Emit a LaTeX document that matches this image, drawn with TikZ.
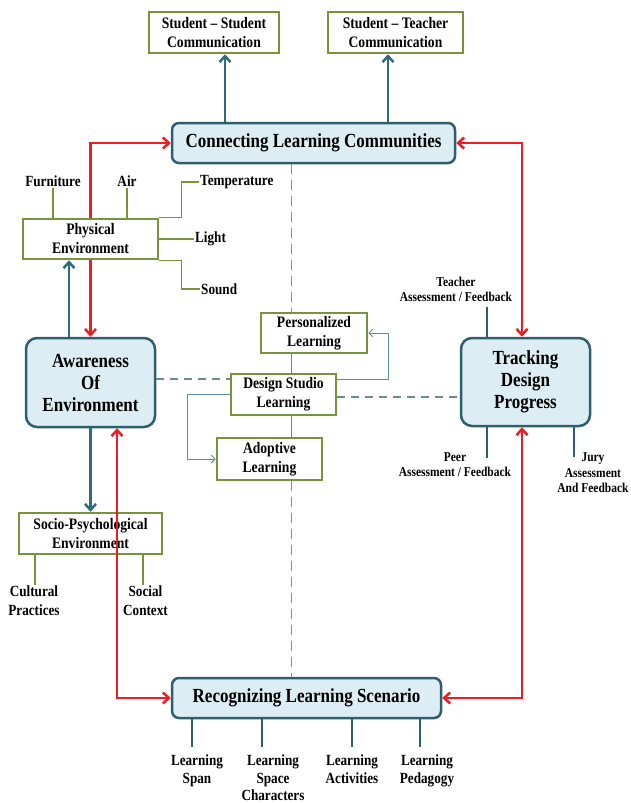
\documentclass[tikz,border=0pt]{standalone}
\usepackage{fontspec}
\setmainfont[FakeStretch=0.85]{Liberation Serif}
\usetikzlibrary{arrows.meta,calc}
\definecolor{olivec}{HTML}{77933C}
\definecolor{bfill}{HTML}{DCEEF4}
\definecolor{bdraw}{HTML}{2F5E6E}
\definecolor{tealc}{HTML}{2E6B80}
\definecolor{redc}{HTML}{EE1C24}
\definecolor{thinb}{HTML}{5F8CA3}
\definecolor{dashg}{HTML}{6C8A93}
\definecolor{vdashc}{HTML}{8A9A5B}
\pgfdeclarelayer{bg}
\pgfsetlayers{bg,main}
\tikzset{
  gbox/.style={draw=olivec, line width=2.5pt, fill=white, inner sep=0pt, align=center,
    font=\fontsize{16}{19}\selectfont\bfseries},
  bbox/.style={draw=bdraw, line width=2.5pt, fill=bfill, rounded corners=8pt, inner sep=0pt,
    align=center, font=\fontsize{20}{22}\selectfont\bfseries},
  lbl/.style={inner sep=1pt, align=center, font=\fontsize{15.5}{19}\selectfont\bfseries},
  llbl/.style={inner sep=1pt, align=center, font=\fontsize{15.5}{17.5}\selectfont\bfseries},
  slbl/.style={inner sep=1pt, align=center, font=\fontsize{13.5}{15.5}\selectfont\bfseries},
  thickarrow/.style={draw=tealc, line width=2.5pt, -{Straight Barb[length=6pt,width=11pt]}},
  redarrow/.style={draw=redc, line width=2.5pt,
    {Straight Barb[length=6pt,width=11pt]}-{Straight Barb[length=6pt,width=11pt]}},
  oline/.style={draw=olivec, line width=1.4pt},
  tline/.style={draw=bdraw, line width=1.4pt},
  thinarrow/.style={draw=thinb, line width=1pt, -{Straight Barb[length=4pt,width=8pt]}},
  hdash/.style={draw=dashg, line width=1.3pt, dash pattern=on 8pt off 6pt},
  vdash/.style={draw=vdashc, line width=1.3pt, dash pattern=on 10pt off 6pt},
}
\begin{document}
\begin{tikzpicture}[x=1pt,y=-1pt]
\useasboundingbox (0,0) rectangle (631,803);
% boxes
\node[gbox, minimum width=130, minimum height=41] (ss) at (214,32.5) {Student -- Student\\Communication};
\node[gbox, minimum width=135, minimum height=41] (st) at (395.5,32.5) {Student -- Teacher\\Communication};
\node[bbox, rounded corners=7pt, minimum width=283, minimum height=40] (conn) at (313.5,143) {Connecting Learning Communities};
\node[gbox, minimum width=135, minimum height=40] (phys) at (90.5,239) {Physical\\Environment};
\node[bbox, rounded corners=11pt, minimum width=129, minimum height=89] (aware) at (90.5,382.5) {Awareness\\Of\\Environment};
\node[bbox, rounded corners=11pt, minimum width=129, minimum height=88] (track) at (525.5,382) {Tracking\\Design\\Progress};
\node[gbox, minimum width=106, minimum height=40] (pers) at (314,333) {Personalized\\Learning};
\node[gbox, minimum width=105, minimum height=41] (ds) at (283.5,394.5) {Design Studio\\Learning};
\node[gbox, minimum width=105, minimum height=42] (adopt) at (269.5,459) {Adoptive\\Learning};
\node[gbox, minimum width=143, minimum height=41] (socio) at (90.5,533.5) {Socio-Psychological\\Environment};
\node[bbox, rounded corners=7pt, minimum width=269, minimum height=40] (recog) at (306.5,698) {Recognizing Learning Scenario};

% labels
\node[lbl] (furn) at (53,181) {Furniture};
\node[lbl] (air) at (127,181) {Air};
\node[lbl, anchor=west] (temp) at (199,182) {Temperature};
\node[lbl, anchor=west] (light) at (194,239) {Light};
\node[lbl, anchor=west] (sound) at (200,289) {Sound};
\node[slbl] (tlab) at (456,289.5) {Teacher\\Assessment / Feedback};
\node[slbl] (plab) at (455,464.5) {Peer\\Assessment / Feedback};
\node[slbl] (jlab) at (593,473) {Jury\\Assessment\\And Feedback};
\node[lbl, anchor=north] (cul) at (34,585) {Cultural\\Practices};
\node[lbl, anchor=north] (soc) at (145.5,585) {Social\\Context};
\node[llbl, anchor=north] (l1) at (197,754) {Learning\\Span};
\node[llbl, anchor=north] (l2) at (273,754) {Learning\\Space\\Characters};
\node[llbl, anchor=north] (l3) at (352,754) {Learning\\Activities};
\node[llbl, anchor=north] (l4) at (427,754) {Learning\\Pedagogy};

% helper coordinates
\coordinate (a1) at (225,0);
\coordinate (a2) at (388,0);
\coordinate (a3) at (69,0);
\coordinate (rl2) at (117,0);
\coordinate (rr) at (522,0);
\coordinate (t1) at (487,307);
\coordinate (t2) at (487,458);
\coordinate (j2) at (574,457);
\coordinate (vx) at (291.5,0);
\coordinate (h1) at (0,379);
\coordinate (h2) at (0,397);
\coordinate (p1) at (388,379);
\coordinate (p2) at (187,394);
\coordinate (c1) at (35,585);
\coordinate (c2) at (143,585);
\coordinate (m1) at (192,747);
\coordinate (m2) at (262,747);
\coordinate (m3) at (352,747);
\coordinate (m4) at (420,747);

% red line behind physical environment
\begin{pgfonlayer}{bg}
\draw[redarrow] (aware.north) |- (conn.west);
\end{pgfonlayer}

% thick blue arrows
\draw[thickarrow] (conn.north -| a1) -- (ss.south -| a1);
\draw[thickarrow] (conn.north -| a2) -- (st.south -| a2);
\draw[thickarrow] (aware.north -| a3) -- (phys.south -| a3);
\draw[thickarrow] (aware.south) -- (socio.north);

% red arrows
\draw[redarrow] (aware.south -| rl2) |- (recog.west);
\draw[redarrow] (conn.east) -| (track.north -| rr);
\draw[redarrow] (track.south -| rr) |- (recog.east);

% physical environment branches
\draw[oline] (phys.north -| furn) -- (furn.south);
\draw[oline] (phys.north -| air) -- (air.south);
\draw[oline] (phys.north east) -- ++(22,0) |- (temp.west);
\draw[oline] (phys.east) -- (light.west);
\draw[oline] (phys.south east) -- ++(22,0) |- (sound.west);

% socio branches
\draw[oline] (socio.south -| c1) -- (c1);
\draw[oline] (socio.south -| c2) -- (c2);

% tracking branches
\draw[tline] (track.north -| t1) -- (t1);
\draw[tline] (track.south -| t2) -- (t2);
\draw[tline] (track.south -| j2) -- (j2);

% recognizing branches
\draw[tline] (recog.south -| m1) -- (m1);
\draw[tline] (recog.south -| m2) -- (m2);
\draw[tline] (recog.south -| m3) -- (m3);
\draw[tline] (recog.south -| m4) -- (m4);

% central spine
\draw[vdash] (conn.south -| vx) -- (pers.north -| vx);
\draw[oline] (pers.south -| vx) -- (ds.north -| vx);
\draw[oline] (ds.south -| vx) -- (adopt.north -| vx);
\draw[vdash] (adopt.south -| vx) -- (recog.north -| vx);

% dashed links
\draw[hdash] (aware.east |- h1) -- (ds.west |- h1);
\draw[hdash] (ds.east |- h2) -- (track.west |- h2);

% thin arrows
\draw[thinarrow] (ds.east |- p1) -- (p1) |- (pers.east);
\draw[thinarrow] (ds.west |- p2) -- (p2) |- (adopt.west);
\end{tikzpicture}
\end{document}
